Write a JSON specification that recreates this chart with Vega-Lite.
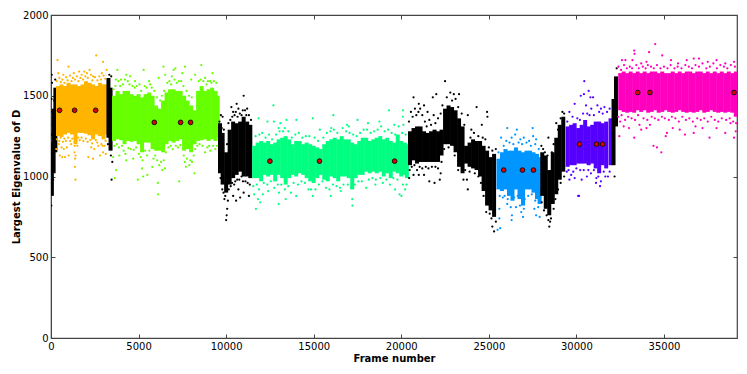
{"$schema":"https://vega.github.io/schema/vega-lite/v6.json","width":686,"height":323,"autosize":"none","padding":{"left":51,"top":15,"right":10,"bottom":36},"background":"white",
"config":{"view":{"stroke":"#444","strokeWidth":1.2},"axis":{"labelFont":"DejaVu Sans","titleFont":"DejaVu Sans","labelFontSize":10,"titleFontSize":10,"titleFontWeight":"bold","labelColor":"#000","titleColor":"#000","grid":false,"domainColor":"#444","tickColor":"#444","tickSize":-4,"labelPadding":7,"labelFlush":false}},
"datasets":{"bands":[
{"x":50,"lo":880,"hi":1210,"s":"k"},{"x":150,"lo":1020,"hi":1420,"s":"k"},{"x":250,"lo":1150,"hi":1550,"s":"k"},
{"x":400,"lo":1250,"hi":1560,"s":"o"},{"x":600,"lo":1245,"hi":1570,"s":"o"},{"x":800,"lo":1260,"hi":1560,"s":"o"},{"x":1000,"lo":1270,"hi":1580,"s":"o"},{"x":1200,"lo":1260,"hi":1570,"s":"o"},{"x":1400,"lo":1200,"hi":1570,"s":"o"},{"x":1600,"lo":1270,"hi":1560,"s":"o"},{"x":1800,"lo":1270,"hi":1570,"s":"o"},{"x":2000,"lo":1265,"hi":1590,"s":"o"},{"x":2200,"lo":1255,"hi":1580,"s":"o"},{"x":2400,"lo":1230,"hi":1570,"s":"o"},{"x":2600,"lo":1260,"hi":1560,"s":"o"},{"x":2800,"lo":1250,"hi":1580,"s":"o"},{"x":3000,"lo":1230,"hi":1570,"s":"o"},{"x":3150,"lo":1260,"hi":1570,"s":"o"},
{"x":3280,"lo":1240,"hi":1610,"s":"k"},{"x":3400,"lo":1160,"hi":1550,"s":"k"},
{"x":3600,"lo":1220,"hi":1500,"s":"g"},{"x":3800,"lo":1230,"hi":1530,"s":"g"},{"x":4000,"lo":1225,"hi":1510,"s":"g"},{"x":4200,"lo":1200,"hi":1530,"s":"g"},{"x":4400,"lo":1220,"hi":1530,"s":"g"},{"x":4600,"lo":1215,"hi":1510,"s":"g"},{"x":4800,"lo":1220,"hi":1500,"s":"g"},{"x":5000,"lo":1200,"hi":1510,"s":"g"},{"x":5200,"lo":1150,"hi":1490,"s":"g"},{"x":5400,"lo":1210,"hi":1510,"s":"g"},{"x":5600,"lo":1210,"hi":1520,"s":"g"},{"x":5800,"lo":1170,"hi":1500,"s":"g"},{"x":6000,"lo":1160,"hi":1440,"s":"g"},{"x":6200,"lo":1160,"hi":1420,"s":"g"},{"x":6400,"lo":1150,"hi":1470,"s":"g"},{"x":6600,"lo":1200,"hi":1520,"s":"g"},{"x":6800,"lo":1220,"hi":1540,"s":"g"},{"x":7000,"lo":1210,"hi":1540,"s":"g"},{"x":7200,"lo":1220,"hi":1530,"s":"g"},{"x":7400,"lo":1230,"hi":1530,"s":"g"},{"x":7600,"lo":1160,"hi":1500,"s":"g"},{"x":7800,"lo":1170,"hi":1470,"s":"g"},{"x":8000,"lo":1150,"hi":1440,"s":"g"},{"x":8200,"lo":1200,"hi":1410,"s":"g"},{"x":8400,"lo":1220,"hi":1530,"s":"g"},{"x":8600,"lo":1225,"hi":1560,"s":"g"},{"x":8800,"lo":1230,"hi":1530,"s":"g"},{"x":9000,"lo":1220,"hi":1540,"s":"g"},{"x":9200,"lo":1230,"hi":1550,"s":"g"},{"x":9400,"lo":1220,"hi":1530,"s":"g"},{"x":9520,"lo":1240,"hi":1500,"s":"g"},
{"x":9650,"lo":1020,"hi":1330,"s":"k"},{"x":9800,"lo":950,"hi":1270,"s":"k"},{"x":10000,"lo":900,"hi":1150,"s":"k"},{"x":10200,"lo":950,"hi":1290,"s":"k"},{"x":10400,"lo":990,"hi":1340,"s":"k"},{"x":10600,"lo":1010,"hi":1330,"s":"k"},{"x":10800,"lo":1030,"hi":1340,"s":"k"},{"x":11000,"lo":1000,"hi":1370,"s":"k"},{"x":11200,"lo":1000,"hi":1340,"s":"k"},{"x":11380,"lo":990,"hi":1320,"s":"k"},
{"x":11600,"lo":990,"hi":1190,"s":"s"},{"x":11800,"lo":990,"hi":1210,"s":"s"},{"x":12000,"lo":970,"hi":1220,"s":"s"},{"x":12200,"lo":1010,"hi":1210,"s":"s"},{"x":12400,"lo":1000,"hi":1220,"s":"s"},{"x":12600,"lo":1010,"hi":1200,"s":"s"},{"x":12800,"lo":970,"hi":1210,"s":"s"},{"x":13000,"lo":1010,"hi":1230,"s":"s"},{"x":13200,"lo":990,"hi":1240,"s":"s"},{"x":13400,"lo":950,"hi":1250,"s":"s"},{"x":13600,"lo":990,"hi":1230,"s":"s"},{"x":13800,"lo":1010,"hi":1200,"s":"s"},{"x":14000,"lo":1000,"hi":1220,"s":"s"},{"x":14200,"lo":1020,"hi":1220,"s":"s"},{"x":14400,"lo":1010,"hi":1200,"s":"s"},{"x":14600,"lo":990,"hi":1210,"s":"s"},{"x":14800,"lo":970,"hi":1200,"s":"s"},{"x":15000,"lo":960,"hi":1190,"s":"s"},{"x":15200,"lo":990,"hi":1180,"s":"s"},{"x":15400,"lo":1010,"hi":1170,"s":"s"},{"x":15600,"lo":980,"hi":1200,"s":"s"},{"x":15800,"lo":970,"hi":1220,"s":"s"},{"x":16000,"lo":1000,"hi":1230,"s":"s"},{"x":16200,"lo":990,"hi":1240,"s":"s"},{"x":16400,"lo":970,"hi":1230,"s":"s"},{"x":16600,"lo":1000,"hi":1250,"s":"s"},{"x":16800,"lo":1000,"hi":1230,"s":"s"},{"x":17000,"lo":990,"hi":1230,"s":"s"},{"x":17200,"lo":920,"hi":1210,"s":"s"},{"x":17400,"lo":990,"hi":1200,"s":"s"},{"x":17600,"lo":1010,"hi":1220,"s":"s"},{"x":17800,"lo":1010,"hi":1240,"s":"s"},{"x":18000,"lo":1030,"hi":1240,"s":"s"},{"x":18200,"lo":1020,"hi":1220,"s":"s"},{"x":18400,"lo":1030,"hi":1230,"s":"s"},{"x":18600,"lo":1020,"hi":1240,"s":"s"},{"x":18800,"lo":1030,"hi":1250,"s":"s"},{"x":19000,"lo":1000,"hi":1230,"s":"s"},{"x":19200,"lo":1020,"hi":1240,"s":"s"},{"x":19400,"lo":990,"hi":1220,"s":"s"},{"x":19600,"lo":1030,"hi":1210,"s":"s"},{"x":19800,"lo":1020,"hi":1260,"s":"s"},{"x":20000,"lo":1000,"hi":1220,"s":"s"},{"x":20200,"lo":1010,"hi":1210,"s":"s"},{"x":20320,"lo":990,"hi":1200,"s":"s"},
{"x":20500,"lo":1070,"hi":1280,"s":"k"},{"x":20700,"lo":1100,"hi":1300,"s":"k"},{"x":20900,"lo":1080,"hi":1310,"s":"k"},{"x":21100,"lo":1090,"hi":1310,"s":"k"},{"x":21300,"lo":1090,"hi":1280,"s":"k"},{"x":21500,"lo":1090,"hi":1270,"s":"k"},{"x":21700,"lo":1090,"hi":1280,"s":"k"},{"x":21900,"lo":1090,"hi":1290,"s":"k"},{"x":22100,"lo":1090,"hi":1280,"s":"k"},{"x":22300,"lo":1130,"hi":1290,"s":"k"},{"x":22500,"lo":1200,"hi":1420,"s":"k"},{"x":22700,"lo":1200,"hi":1440,"s":"k"},{"x":22900,"lo":1190,"hi":1430,"s":"k"},{"x":23100,"lo":1150,"hi":1410,"s":"k"},{"x":23300,"lo":1060,"hi":1360,"s":"k"},{"x":23500,"lo":1020,"hi":1310,"s":"k"},{"x":23700,"lo":1080,"hi":1190,"s":"k"},{"x":23900,"lo":1060,"hi":1210,"s":"k"},{"x":24100,"lo":1050,"hi":1230,"s":"k"},{"x":24300,"lo":1040,"hi":1220,"s":"k"},{"x":24500,"lo":1000,"hi":1220,"s":"k"},{"x":24700,"lo":910,"hi":1190,"s":"k"},{"x":24900,"lo":820,"hi":1160,"s":"k"},{"x":25100,"lo":790,"hi":1120,"s":"k"},{"x":25300,"lo":750,"hi":1140,"s":"k"},
{"x":25550,"lo":920,"hi":1110,"s":"b"},{"x":25750,"lo":910,"hi":1150,"s":"b"},{"x":25950,"lo":920,"hi":1170,"s":"b"},{"x":26150,"lo":880,"hi":1160,"s":"b"},{"x":26350,"lo":850,"hi":1160,"s":"b"},{"x":26550,"lo":920,"hi":1180,"s":"b"},{"x":26750,"lo":860,"hi":1160,"s":"b"},{"x":26950,"lo":820,"hi":1150,"s":"b"},{"x":27150,"lo":920,"hi":1160,"s":"b"},{"x":27350,"lo":920,"hi":1160,"s":"b"},{"x":27550,"lo":900,"hi":1150,"s":"b"},{"x":27750,"lo":860,"hi":1140,"s":"b"},{"x":27900,"lo":830,"hi":1120,"s":"b"},
{"x":28050,"lo":880,"hi":1150,"s":"k"},{"x":28250,"lo":800,"hi":1130,"s":"k"},{"x":28450,"lo":760,"hi":1040,"s":"k"},{"x":28650,"lo":830,"hi":1150,"s":"k"},{"x":28850,"lo":890,"hi":1240,"s":"k"},{"x":29050,"lo":980,"hi":1320,"s":"k"},{"x":29250,"lo":1030,"hi":1370,"s":"k"},
{"x":29500,"lo":1060,"hi":1310,"s":"p"},{"x":29700,"lo":1070,"hi":1320,"s":"p"},{"x":29900,"lo":1070,"hi":1330,"s":"p"},{"x":30100,"lo":1080,"hi":1300,"s":"p"},{"x":30300,"lo":1080,"hi":1320,"s":"p"},{"x":30500,"lo":1080,"hi":1350,"s":"p"},{"x":30700,"lo":1070,"hi":1310,"s":"p"},{"x":30900,"lo":1080,"hi":1320,"s":"p"},{"x":31100,"lo":1050,"hi":1340,"s":"p"},{"x":31300,"lo":1020,"hi":1340,"s":"p"},{"x":31500,"lo":1070,"hi":1330,"s":"p"},{"x":31700,"lo":1050,"hi":1340,"s":"p"},{"x":31950,"lo":1070,"hi":1360,"s":"p"},
{"x":32120,"lo":1070,"hi":1480,"s":"k"},{"x":32260,"lo":1310,"hi":1620,"s":"k"},
{"x":32500,"lo":1410,"hi":1640,"s":"m"},{"x":32700,"lo":1400,"hi":1650,"s":"m"},{"x":32900,"lo":1395,"hi":1640,"s":"m"},{"x":33100,"lo":1400,"hi":1650,"s":"m"},{"x":33300,"lo":1395,"hi":1640,"s":"m"},{"x":33500,"lo":1410,"hi":1650,"s":"m"},{"x":33700,"lo":1400,"hi":1640,"s":"m"},{"x":33900,"lo":1410,"hi":1650,"s":"m"},{"x":34100,"lo":1395,"hi":1640,"s":"m"},{"x":34300,"lo":1400,"hi":1650,"s":"m"},{"x":34500,"lo":1410,"hi":1650,"s":"m"},{"x":34700,"lo":1395,"hi":1640,"s":"m"},{"x":34900,"lo":1400,"hi":1650,"s":"m"},{"x":35100,"lo":1410,"hi":1640,"s":"m"},{"x":35300,"lo":1400,"hi":1640,"s":"m"},{"x":35500,"lo":1395,"hi":1650,"s":"m"},{"x":35700,"lo":1400,"hi":1640,"s":"m"},{"x":35900,"lo":1410,"hi":1650,"s":"m"},{"x":36100,"lo":1400,"hi":1640,"s":"m"},{"x":36300,"lo":1395,"hi":1650,"s":"m"},{"x":36500,"lo":1400,"hi":1650,"s":"m"},{"x":36700,"lo":1395,"hi":1640,"s":"m"},{"x":36900,"lo":1400,"hi":1650,"s":"m"},{"x":37100,"lo":1410,"hi":1650,"s":"m"},{"x":37300,"lo":1395,"hi":1640,"s":"m"},{"x":37500,"lo":1400,"hi":1650,"s":"m"},{"x":37700,"lo":1410,"hi":1640,"s":"m"},{"x":37900,"lo":1400,"hi":1650,"s":"m"},{"x":38100,"lo":1395,"hi":1640,"s":"m"},{"x":38300,"lo":1400,"hi":1650,"s":"m"},{"x":38500,"lo":1395,"hi":1640,"s":"m"},{"x":38700,"lo":1400,"hi":1650,"s":"m"},{"x":38900,"lo":1395,"hi":1640,"s":"m"},{"x":39100,"lo":1370,"hi":1650,"s":"m"}
],"pts":[
{"x":20,"y":820,"s":"k"},{"x":40,"y":1630,"s":"k"},{"x":60,"y":1580,"s":"k"},{"x":30,"y":1480,"s":"k"},{"x":70,"y":1400,"s":"k"},{"x":90,"y":1320,"s":"k"},{"x":30,"y":900,"s":"k"},{"x":240,"y":1600,"s":"k"},{"x":3460,"y":980,"s":"k"},{"x":3500,"y":1090,"s":"k"},{"x":3440,"y":1620,"s":"k"},{"x":3330,"y":1630,"s":"k"},{"x":3250,"y":1200,"s":"k"},{"x":3420,"y":1130,"s":"k"},{"x":20,"y":1260,"s":"k"},{"x":120,"y":980,"s":"k"},{"x":180,"y":1470,"s":"k"},
{"x":370,"y":1720,"s":"o"},{"x":1000,"y":1680,"s":"o"},{"x":1300,"y":1640,"s":"o"},{"x":1600,"y":1650,"s":"o"},{"x":2050,"y":1640,"s":"o"},{"x":2580,"y":1750,"s":"o"},{"x":2970,"y":1710,"s":"o"},{"x":3180,"y":1660,"s":"o"},{"x":700,"y":1630,"s":"o"},{"x":420,"y":1640,"s":"o"},{"x":1400,"y":980,"s":"o"},{"x":1370,"y":1060,"s":"o"},{"x":1380,"y":1110,"s":"o"},{"x":1340,"y":1150,"s":"o"},{"x":1350,"y":1190,"s":"o"},{"x":1400,"y":1130,"s":"o"},{"x":500,"y":1130,"s":"o"},{"x":730,"y":1170,"s":"o"},{"x":640,"y":1120,"s":"o"},{"x":800,"y":1120,"s":"o"},{"x":1010,"y":1130,"s":"o"},{"x":2130,"y":1120,"s":"o"},{"x":2400,"y":1110,"s":"o"},{"x":2470,"y":1170,"s":"o"},{"x":2800,"y":1130,"s":"o"},{"x":2970,"y":1150,"s":"o"},{"x":3060,"y":1190,"s":"o"},{"x":1900,"y":1650,"s":"o"},{"x":2200,"y":1660,"s":"o"},{"x":1750,"y":1630,"s":"o"},{"x":2400,"y":1620,"s":"o"},{"x":2900,"y":1640,"s":"o"},{"x":1500,"y":1190,"s":"o"},{"x":300,"y":1170,"s":"o"},{"x":600,"y":1180,"s":"o"},{"x":900,"y":1180,"s":"o"},{"x":450,"y":1200,"s":"o"},{"x":1150,"y":1200,"s":"o"},{"x":2300,"y":1180,"s":"o"},{"x":2700,"y":1190,"s":"o"},{"x":3130,"y":1140,"s":"o"},
{"x":320,"y":1590,"s":"o"},{"x":480,"y":1610,"s":"o"},{"x":560,"y":1585,"s":"o"},{"x":650,"y":1600,"s":"o"},{"x":770,"y":1580,"s":"o"},{"x":870,"y":1615,"s":"o"},{"x":950,"y":1595,"s":"o"},{"x":1080,"y":1625,"s":"o"},{"x":1170,"y":1590,"s":"o"},{"x":1250,"y":1610,"s":"o"},{"x":1370,"y":1600,"s":"o"},{"x":1480,"y":1620,"s":"o"},{"x":1570,"y":1590,"s":"o"},{"x":1680,"y":1610,"s":"o"},{"x":1830,"y":1600,"s":"o"},{"x":1960,"y":1620,"s":"o"},{"x":2100,"y":1610,"s":"o"},{"x":2280,"y":1630,"s":"o"},{"x":2360,"y":1595,"s":"o"},{"x":2510,"y":1615,"s":"o"},{"x":2650,"y":1595,"s":"o"},{"x":2760,"y":1620,"s":"o"},{"x":2850,"y":1600,"s":"o"},{"x":3000,"y":1625,"s":"o"},{"x":3100,"y":1605,"s":"o"},
{"x":340,"y":1230,"s":"o"},{"x":470,"y":1220,"s":"o"},{"x":550,"y":1240,"s":"o"},{"x":680,"y":1215,"s":"o"},{"x":760,"y":1235,"s":"o"},{"x":850,"y":1220,"s":"o"},{"x":980,"y":1240,"s":"o"},{"x":1100,"y":1220,"s":"o"},{"x":1210,"y":1235,"s":"o"},{"x":1560,"y":1240,"s":"o"},{"x":1640,"y":1225,"s":"o"},{"x":1740,"y":1240,"s":"o"},{"x":1850,"y":1220,"s":"o"},{"x":1990,"y":1235,"s":"o"},{"x":2090,"y":1215,"s":"o"},{"x":2250,"y":1225,"s":"o"},{"x":2350,"y":1205,"s":"o"},{"x":2560,"y":1225,"s":"o"},{"x":2640,"y":1210,"s":"o"},{"x":2880,"y":1200,"s":"o"},{"x":2950,"y":1190,"s":"o"},{"x":3120,"y":1220,"s":"o"},
{"x":3790,"y":1660,"s":"g"},{"x":4300,"y":1630,"s":"g"},{"x":4520,"y":1620,"s":"g"},{"x":5290,"y":1660,"s":"g"},{"x":6420,"y":1680,"s":"g"},{"x":6520,"y":1630,"s":"g"},{"x":7000,"y":1660,"s":"g"},{"x":7100,"y":1670,"s":"g"},{"x":7500,"y":1640,"s":"g"},{"x":7650,"y":1680,"s":"g"},{"x":8230,"y":1630,"s":"g"},{"x":8580,"y":1690,"s":"g"},{"x":9220,"y":1640,"s":"g"},{"x":3700,"y":1600,"s":"g"},{"x":4000,"y":1600,"s":"g"},{"x":4800,"y":1590,"s":"g"},{"x":5600,"y":1590,"s":"g"},{"x":6150,"y":1610,"s":"g"},{"x":6900,"y":1620,"s":"g"},{"x":8000,"y":1600,"s":"g"},{"x":8800,"y":1610,"s":"g"},{"x":3720,"y":1040,"s":"g"},{"x":3640,"y":990,"s":"g"},{"x":4960,"y":980,"s":"g"},{"x":5260,"y":1000,"s":"g"},{"x":5500,"y":1010,"s":"g"},{"x":6120,"y":890,"s":"g"},{"x":6100,"y":960,"s":"g"},{"x":7320,"y":970,"s":"g"},{"x":7700,"y":1060,"s":"g"},{"x":8200,"y":1020,"s":"g"},{"x":6350,"y":1040,"s":"g"},{"x":6500,"y":1050,"s":"g"},{"x":5780,"y":1060,"s":"g"},{"x":5200,"y":1050,"s":"g"},{"x":4300,"y":1100,"s":"g"},{"x":4700,"y":1110,"s":"g"},{"x":3900,"y":1130,"s":"g"},{"x":7900,"y":1070,"s":"g"},{"x":8050,"y":1090,"s":"g"},{"x":8150,"y":1130,"s":"g"},{"x":8800,"y":1150,"s":"g"},{"x":9100,"y":1160,"s":"g"},{"x":3550,"y":1120,"s":"g"},
{"x":3570,"y":1540,"s":"g"},{"x":3680,"y":1560,"s":"g"},{"x":3850,"y":1590,"s":"g"},{"x":3950,"y":1560,"s":"g"},{"x":4100,"y":1570,"s":"g"},{"x":4220,"y":1600,"s":"g"},{"x":4380,"y":1590,"s":"g"},{"x":4480,"y":1570,"s":"g"},{"x":4650,"y":1560,"s":"g"},{"x":4780,"y":1550,"s":"g"},{"x":4900,"y":1560,"s":"g"},{"x":5050,"y":1570,"s":"g"},{"x":5150,"y":1530,"s":"g"},{"x":5350,"y":1560,"s":"g"},{"x":5460,"y":1550,"s":"g"},{"x":5660,"y":1570,"s":"g"},{"x":5750,"y":1550,"s":"g"},{"x":5900,"y":1530,"s":"g"},{"x":6050,"y":1490,"s":"g"},{"x":6230,"y":1470,"s":"g"},{"x":6330,"y":1500,"s":"g"},{"x":6460,"y":1530,"s":"g"},{"x":6640,"y":1580,"s":"g"},{"x":6760,"y":1590,"s":"g"},{"x":6860,"y":1570,"s":"g"},{"x":7050,"y":1600,"s":"g"},{"x":7180,"y":1580,"s":"g"},{"x":7300,"y":1590,"s":"g"},{"x":7440,"y":1590,"s":"g"},{"x":7560,"y":1560,"s":"g"},{"x":7740,"y":1530,"s":"g"},{"x":7880,"y":1500,"s":"g"},{"x":8040,"y":1490,"s":"g"},{"x":8440,"y":1590,"s":"g"},{"x":8540,"y":1600,"s":"g"},{"x":8700,"y":1590,"s":"g"},{"x":8880,"y":1570,"s":"g"},{"x":8960,"y":1590,"s":"g"},{"x":9080,"y":1590,"s":"g"},{"x":9160,"y":1580,"s":"g"},{"x":9300,"y":1590,"s":"g"},{"x":9440,"y":1580,"s":"g"},
{"x":3620,"y":1190,"s":"g"},{"x":3760,"y":1200,"s":"g"},{"x":3880,"y":1180,"s":"g"},{"x":4050,"y":1190,"s":"g"},{"x":4150,"y":1160,"s":"g"},{"x":4250,"y":1140,"s":"g"},{"x":4420,"y":1175,"s":"g"},{"x":4560,"y":1170,"s":"g"},{"x":4720,"y":1165,"s":"g"},{"x":4860,"y":1180,"s":"g"},{"x":5020,"y":1140,"s":"g"},{"x":5120,"y":1120,"s":"g"},{"x":5230,"y":1100,"s":"g"},{"x":5380,"y":1160,"s":"g"},{"x":5480,"y":1130,"s":"g"},{"x":5620,"y":1160,"s":"g"},{"x":5850,"y":1110,"s":"g"},{"x":5950,"y":1130,"s":"g"},{"x":6060,"y":1100,"s":"g"},{"x":6180,"y":1070,"s":"g"},{"x":6280,"y":1090,"s":"g"},{"x":6440,"y":1100,"s":"g"},{"x":6560,"y":1150,"s":"g"},{"x":6700,"y":1180,"s":"g"},{"x":6830,"y":1190,"s":"g"},{"x":6950,"y":1170,"s":"g"},{"x":7130,"y":1190,"s":"g"},{"x":7250,"y":1180,"s":"g"},{"x":7380,"y":1195,"s":"g"},{"x":7580,"y":1130,"s":"g"},{"x":7640,"y":1090,"s":"g"},{"x":7760,"y":1110,"s":"g"},{"x":7950,"y":1100,"s":"g"},{"x":8240,"y":1170,"s":"g"},{"x":8360,"y":1190,"s":"g"},{"x":8480,"y":1200,"s":"g"},{"x":8650,"y":1190,"s":"g"},{"x":8930,"y":1180,"s":"g"},{"x":9030,"y":1190,"s":"g"},{"x":9260,"y":1190,"s":"g"},{"x":9380,"y":1170,"s":"g"},{"x":9480,"y":1190,"s":"g"},
{"x":9700,"y":1380,"s":"k"},{"x":9800,"y":1370,"s":"k"},{"x":10130,"y":1330,"s":"k"},{"x":10300,"y":1430,"s":"k"},{"x":10400,"y":1400,"s":"k"},{"x":10600,"y":1450,"s":"k"},{"x":10700,"y":1420,"s":"k"},{"x":11000,"y":1500,"s":"k"},{"x":11200,"y":1420,"s":"k"},{"x":10000,"y":730,"s":"k"},{"x":10030,"y":760,"s":"k"},{"x":10060,"y":800,"s":"k"},{"x":10100,"y":850,"s":"k"},{"x":10400,"y":880,"s":"k"},{"x":10570,"y":850,"s":"k"},{"x":10800,"y":870,"s":"k"},{"x":11000,"y":900,"s":"k"},{"x":11300,"y":880,"s":"k"},{"x":10700,"y":920,"s":"k"},{"x":9900,"y":860,"s":"k"},
{"x":9620,"y":1340,"s":"k"},{"x":9750,"y":1300,"s":"k"},{"x":9870,"y":1290,"s":"k"},{"x":10050,"y":1200,"s":"k"},{"x":10240,"y":1350,"s":"k"},{"x":10350,"y":1370,"s":"k"},{"x":10480,"y":1380,"s":"k"},{"x":10550,"y":1400,"s":"k"},{"x":10650,"y":1370,"s":"k"},{"x":10780,"y":1390,"s":"k"},{"x":10880,"y":1380,"s":"k"},{"x":10950,"y":1410,"s":"k"},{"x":11080,"y":1410,"s":"k"},{"x":11150,"y":1380,"s":"k"},{"x":11300,"y":1380,"s":"k"},{"x":11420,"y":1350,"s":"k"},{"x":9680,"y":990,"s":"k"},{"x":9780,"y":920,"s":"k"},{"x":9850,"y":900,"s":"k"},{"x":9950,"y":880,"s":"k"},{"x":10150,"y":920,"s":"k"},{"x":10260,"y":940,"s":"k"},{"x":10340,"y":960,"s":"k"},{"x":10460,"y":950,"s":"k"},{"x":10520,"y":970,"s":"k"},{"x":10630,"y":980,"s":"k"},{"x":10750,"y":980,"s":"k"},{"x":10880,"y":1000,"s":"k"},{"x":10960,"y":970,"s":"k"},{"x":11100,"y":970,"s":"k"},{"x":11230,"y":960,"s":"k"},{"x":11350,"y":950,"s":"k"},
{"x":11700,"y":800,"s":"s"},{"x":11820,"y":860,"s":"s"},{"x":11600,"y":890,"s":"s"},{"x":11950,"y":840,"s":"s"},{"x":12100,"y":890,"s":"s"},{"x":12400,"y":910,"s":"s"},{"x":13000,"y":830,"s":"s"},{"x":13020,"y":900,"s":"s"},{"x":12950,"y":950,"s":"s"},{"x":14000,"y":880,"s":"s"},{"x":14950,"y":880,"s":"s"},{"x":14700,"y":920,"s":"s"},{"x":13700,"y":900,"s":"s"},{"x":13400,"y":860,"s":"s"},{"x":15980,"y":880,"s":"s"},{"x":17210,"y":820,"s":"s"},{"x":17200,"y":860,"s":"s"},{"x":16550,"y":910,"s":"s"},{"x":18000,"y":930,"s":"s"},{"x":18520,"y":950,"s":"s"},{"x":19650,"y":920,"s":"s"},{"x":20010,"y":880,"s":"s"},{"x":19900,"y":890,"s":"s"},{"x":20220,"y":920,"s":"s"},{"x":12700,"y":1440,"s":"s"},{"x":11850,"y":1360,"s":"s"},{"x":12360,"y":1340,"s":"s"},{"x":12730,"y":1340,"s":"s"},{"x":13100,"y":1330,"s":"s"},{"x":13450,"y":1350,"s":"s"},{"x":14010,"y":1350,"s":"s"},{"x":14950,"y":1360,"s":"s"},{"x":15350,"y":1290,"s":"s"},{"x":16120,"y":1380,"s":"s"},{"x":16900,"y":1320,"s":"s"},{"x":17500,"y":1350,"s":"s"},{"x":18100,"y":1330,"s":"s"},{"x":18750,"y":1340,"s":"s"},{"x":19300,"y":1410,"s":"s"},{"x":20100,"y":1410,"s":"s"},{"x":20090,"y":1370,"s":"s"},{"x":20120,"y":1320,"s":"s"},{"x":19600,"y":1320,"s":"s"},{"x":13000,"y":1300,"s":"s"},{"x":16000,"y":1300,"s":"s"},{"x":17000,"y":1310,"s":"s"},
{"x":11680,"y":1250,"s":"s"},{"x":11900,"y":1260,"s":"s"},{"x":12060,"y":1270,"s":"s"},{"x":12250,"y":1240,"s":"s"},{"x":12450,"y":1260,"s":"s"},{"x":12620,"y":1230,"s":"s"},{"x":12850,"y":1260,"s":"s"},{"x":13050,"y":1280,"s":"s"},{"x":13250,"y":1280,"s":"s"},{"x":13350,"y":1300,"s":"s"},{"x":13550,"y":1280,"s":"s"},{"x":13750,"y":1240,"s":"s"},{"x":13950,"y":1260,"s":"s"},{"x":14150,"y":1270,"s":"s"},{"x":14350,"y":1240,"s":"s"},{"x":14550,"y":1250,"s":"s"},{"x":14750,"y":1250,"s":"s"},{"x":15050,"y":1240,"s":"s"},{"x":15250,"y":1220,"s":"s"},{"x":15550,"y":1240,"s":"s"},{"x":15750,"y":1270,"s":"s"},{"x":15950,"y":1280,"s":"s"},{"x":16150,"y":1290,"s":"s"},{"x":16350,"y":1270,"s":"s"},{"x":16650,"y":1300,"s":"s"},{"x":16850,"y":1280,"s":"s"},{"x":17050,"y":1270,"s":"s"},{"x":17250,"y":1260,"s":"s"},{"x":17450,"y":1250,"s":"s"},{"x":17650,"y":1270,"s":"s"},{"x":17850,"y":1290,"s":"s"},{"x":18050,"y":1290,"s":"s"},{"x":18250,"y":1270,"s":"s"},{"x":18450,"y":1280,"s":"s"},{"x":18650,"y":1290,"s":"s"},{"x":18850,"y":1310,"s":"s"},{"x":19050,"y":1280,"s":"s"},{"x":19250,"y":1290,"s":"s"},{"x":19450,"y":1270,"s":"s"},{"x":19650,"y":1260,"s":"s"},{"x":19850,"y":1310,"s":"s"},{"x":20050,"y":1270,"s":"s"},{"x":20250,"y":1260,"s":"s"},
{"x":11550,"y":940,"s":"s"},{"x":11750,"y":950,"s":"s"},{"x":11880,"y":920,"s":"s"},{"x":12150,"y":960,"s":"s"},{"x":12350,"y":950,"s":"s"},{"x":12550,"y":970,"s":"s"},{"x":12750,"y":930,"s":"s"},{"x":13150,"y":950,"s":"s"},{"x":13350,"y":920,"s":"s"},{"x":13550,"y":940,"s":"s"},{"x":13850,"y":960,"s":"s"},{"x":14100,"y":950,"s":"s"},{"x":14300,"y":970,"s":"s"},{"x":14500,"y":960,"s":"s"},{"x":14850,"y":920,"s":"s"},{"x":15100,"y":920,"s":"s"},{"x":15300,"y":950,"s":"s"},{"x":15500,"y":970,"s":"s"},{"x":15700,"y":930,"s":"s"},{"x":15900,"y":920,"s":"s"},{"x":16100,"y":950,"s":"s"},{"x":16300,"y":940,"s":"s"},{"x":16500,"y":930,"s":"s"},{"x":16700,"y":950,"s":"s"},{"x":16950,"y":950,"s":"s"},{"x":17150,"y":930,"s":"s"},{"x":17350,"y":950,"s":"s"},{"x":17550,"y":970,"s":"s"},{"x":17750,"y":970,"s":"s"},{"x":18150,"y":980,"s":"s"},{"x":18350,"y":990,"s":"s"},{"x":18550,"y":980,"s":"s"},{"x":18800,"y":990,"s":"s"},{"x":18950,"y":960,"s":"s"},{"x":19150,"y":980,"s":"s"},{"x":19350,"y":950,"s":"s"},{"x":19550,"y":990,"s":"s"},{"x":19780,"y":980,"s":"s"},{"x":20100,"y":950,"s":"s"},{"x":20300,"y":950,"s":"s"},
{"x":20450,"y":990,"s":"k"},{"x":20700,"y":1010,"s":"k"},{"x":21000,"y":1010,"s":"k"},{"x":21300,"y":1010,"s":"k"},{"x":21600,"y":970,"s":"k"},{"x":21900,"y":960,"s":"k"},{"x":22200,"y":980,"s":"k"},{"x":22250,"y":1020,"s":"k"},{"x":20700,"y":1490,"s":"k"},{"x":21000,"y":1450,"s":"k"},{"x":21300,"y":1440,"s":"k"},{"x":21800,"y":1490,"s":"k"},{"x":22000,"y":1510,"s":"k"},{"x":22500,"y":1590,"s":"k"},{"x":22800,"y":1520,"s":"k"},{"x":23300,"y":1510,"s":"k"},{"x":23000,"y":1510,"s":"k"},{"x":21500,"y":1400,"s":"k"},{"x":24300,"y":1430,"s":"k"},{"x":24900,"y":1400,"s":"k"},{"x":24920,"y":1370,"s":"k"},{"x":24600,"y":1320,"s":"k"},{"x":23800,"y":1380,"s":"k"},{"x":24000,"y":1290,"s":"k"},{"x":23800,"y":920,"s":"k"},{"x":23750,"y":980,"s":"k"},{"x":25300,"y":660,"s":"k"},{"x":25200,"y":690,"s":"k"},{"x":28450,"y":690,"s":"k"},{"x":28500,"y":720,"s":"k"},{"x":28000,"y":1190,"s":"k"},{"x":28400,"y":1240,"s":"k"},{"x":28850,"y":1330,"s":"k"},{"x":29200,"y":1400,"s":"k"},
{"x":20440,"y":1340,"s":"k"},{"x":20550,"y":1400,"s":"k"},{"x":20650,"y":1370,"s":"k"},{"x":20780,"y":1420,"s":"k"},{"x":20860,"y":1380,"s":"k"},{"x":20980,"y":1400,"s":"k"},{"x":21080,"y":1420,"s":"k"},{"x":21200,"y":1380,"s":"k"},{"x":21350,"y":1340,"s":"k"},{"x":21450,"y":1310,"s":"k"},{"x":21600,"y":1350,"s":"k"},{"x":21700,"y":1320,"s":"k"},{"x":21850,"y":1380,"s":"k"},{"x":21950,"y":1330,"s":"k"},{"x":22100,"y":1360,"s":"k"},{"x":22250,"y":1390,"s":"k"},{"x":22350,"y":1440,"s":"k"},{"x":22600,"y":1490,"s":"k"},{"x":22900,"y":1470,"s":"k"},{"x":23100,"y":1480,"s":"k"},{"x":23250,"y":1430,"s":"k"},{"x":23450,"y":1390,"s":"k"},{"x":23600,"y":1320,"s":"k"},{"x":23950,"y":1240,"s":"k"},{"x":24150,"y":1270,"s":"k"},{"x":24400,"y":1250,"s":"k"},{"x":24650,"y":1240,"s":"k"},{"x":24800,"y":1230,"s":"k"},{"x":25000,"y":1180,"s":"k"},{"x":25200,"y":1160,"s":"k"},{"x":25400,"y":1170,"s":"k"},
{"x":20480,"y":1040,"s":"k"},{"x":20600,"y":1060,"s":"k"},{"x":20750,"y":1070,"s":"k"},{"x":20900,"y":1040,"s":"k"},{"x":21050,"y":1060,"s":"k"},{"x":21200,"y":1050,"s":"k"},{"x":21400,"y":1060,"s":"k"},{"x":21550,"y":1050,"s":"k"},{"x":21750,"y":1060,"s":"k"},{"x":21950,"y":1060,"s":"k"},{"x":22100,"y":1050,"s":"k"},{"x":22300,"y":1090,"s":"k"},{"x":22450,"y":1170,"s":"k"},{"x":22700,"y":1180,"s":"k"},{"x":23050,"y":1130,"s":"k"},{"x":23250,"y":1040,"s":"k"},{"x":23550,"y":980,"s":"k"},{"x":23650,"y":1040,"s":"k"},{"x":23900,"y":1030,"s":"k"},{"x":24200,"y":1020,"s":"k"},{"x":24400,"y":1000,"s":"k"},{"x":24550,"y":960,"s":"k"},{"x":24700,"y":880,"s":"k"},{"x":24850,"y":780,"s":"k"},{"x":25050,"y":770,"s":"k"},{"x":25150,"y":740,"s":"k"},{"x":25400,"y":720,"s":"k"},{"x":28020,"y":840,"s":"k"},{"x":28150,"y":790,"s":"k"},{"x":28300,"y":760,"s":"k"},{"x":28400,"y":730,"s":"k"},{"x":28550,"y":740,"s":"k"},{"x":28700,"y":800,"s":"k"},{"x":28800,"y":860,"s":"k"},{"x":28950,"y":920,"s":"k"},{"x":29100,"y":960,"s":"k"},{"x":29300,"y":1000,"s":"k"},{"x":28100,"y":1170,"s":"k"},{"x":28200,"y":1150,"s":"k"},{"x":28350,"y":1130,"s":"k"},{"x":28600,"y":1150,"s":"k"},{"x":28700,"y":1200,"s":"k"},{"x":28950,"y":1290,"s":"k"},{"x":29100,"y":1360,"s":"k"},{"x":29300,"y":1390,"s":"k"},
{"x":25500,"y":670,"s":"b"},{"x":25650,"y":680,"s":"b"},{"x":25600,"y":740,"s":"b"},{"x":25600,"y":800,"s":"b"},{"x":26300,"y":730,"s":"b"},{"x":26320,"y":760,"s":"b"},{"x":26050,"y":830,"s":"b"},{"x":25800,"y":870,"s":"b"},{"x":26950,"y":750,"s":"b"},{"x":26850,"y":780,"s":"b"},{"x":27000,"y":800,"s":"b"},{"x":27700,"y":760,"s":"b"},{"x":27900,"y":750,"s":"b"},{"x":27600,"y":800,"s":"b"},{"x":26550,"y":810,"s":"b"},{"x":25700,"y":1240,"s":"b"},{"x":26050,"y":1300,"s":"b"},{"x":26600,"y":1290,"s":"b"},{"x":27500,"y":1300,"s":"b"},{"x":26300,"y":1240,"s":"b"},{"x":26500,"y":1260,"s":"b"},{"x":26800,"y":1230,"s":"b"},{"x":27000,"y":1240,"s":"b"},{"x":27300,"y":1220,"s":"b"},{"x":27530,"y":1250,"s":"b"},{"x":27700,"y":1230,"s":"b"},
{"x":25550,"y":1150,"s":"b"},{"x":25850,"y":1190,"s":"b"},{"x":26000,"y":1220,"s":"b"},{"x":26180,"y":1210,"s":"b"},{"x":26400,"y":1200,"s":"b"},{"x":26700,"y":1210,"s":"b"},{"x":26900,"y":1200,"s":"b"},{"x":27150,"y":1210,"s":"b"},{"x":27400,"y":1190,"s":"b"},{"x":27650,"y":1200,"s":"b"},{"x":27850,"y":1170,"s":"b"},{"x":25620,"y":880,"s":"b"},{"x":25900,"y":880,"s":"b"},{"x":26080,"y":860,"s":"b"},{"x":26250,"y":810,"s":"b"},{"x":26450,"y":870,"s":"b"},{"x":26650,"y":880,"s":"b"},{"x":26780,"y":820,"s":"b"},{"x":27050,"y":860,"s":"b"},{"x":27250,"y":880,"s":"b"},{"x":27450,"y":890,"s":"b"},{"x":27650,"y":850,"s":"b"},{"x":27820,"y":810,"s":"b"},
{"x":29600,"y":980,"s":"p"},{"x":29700,"y":1010,"s":"p"},{"x":30100,"y":880,"s":"p"},{"x":30150,"y":880,"s":"p"},{"x":29900,"y":990,"s":"p"},{"x":30300,"y":980,"s":"p"},{"x":30600,"y":1000,"s":"p"},{"x":31120,"y":960,"s":"p"},{"x":31140,"y":990,"s":"p"},{"x":31400,"y":970,"s":"p"},{"x":31350,"y":940,"s":"p"},{"x":31800,"y":1000,"s":"p"},{"x":29600,"y":1400,"s":"p"},{"x":29900,"y":1450,"s":"p"},{"x":30250,"y":1500,"s":"p"},{"x":30450,"y":1590,"s":"p"},{"x":30430,"y":1510,"s":"p"},{"x":30700,"y":1530,"s":"p"},{"x":30550,"y":1440,"s":"p"},{"x":30800,"y":1490,"s":"p"},{"x":30950,"y":1490,"s":"p"},{"x":31200,"y":1440,"s":"p"},{"x":30850,"y":1420,"s":"p"},{"x":31400,"y":1420,"s":"p"},{"x":31600,"y":1430,"s":"p"},{"x":31900,"y":1420,"s":"p"},
{"x":29480,"y":1340,"s":"p"},{"x":29780,"y":1370,"s":"p"},{"x":30050,"y":1360,"s":"p"},{"x":30200,"y":1350,"s":"p"},{"x":30380,"y":1390,"s":"p"},{"x":30620,"y":1390,"s":"p"},{"x":30750,"y":1380,"s":"p"},{"x":31000,"y":1380,"s":"p"},{"x":31300,"y":1400,"s":"p"},{"x":31500,"y":1390,"s":"p"},{"x":31750,"y":1400,"s":"p"},{"x":29450,"y":1030,"s":"p"},{"x":29550,"y":1040,"s":"p"},{"x":29820,"y":1030,"s":"p"},{"x":30000,"y":1050,"s":"p"},{"x":30220,"y":1040,"s":"p"},{"x":30420,"y":1040,"s":"p"},{"x":30680,"y":1040,"s":"p"},{"x":30830,"y":1020,"s":"p"},{"x":31000,"y":1040,"s":"p"},{"x":31250,"y":1000,"s":"p"},{"x":31560,"y":1030,"s":"p"},{"x":31650,"y":1000,"s":"p"},{"x":31900,"y":1030,"s":"p"},
{"x":32180,"y":1000,"s":"k"},{"x":32050,"y":1080,"s":"k"},{"x":32300,"y":1670,"s":"k"},
{"x":32600,"y":1720,"s":"m"},{"x":32800,"y":1720,"s":"m"},{"x":33200,"y":1720,"s":"m"},{"x":33300,"y":1780,"s":"m"},{"x":33320,"y":1760,"s":"m"},{"x":33700,"y":1700,"s":"m"},{"x":34150,"y":1770,"s":"m"},{"x":34500,"y":1820,"s":"m"},{"x":34900,"y":1750,"s":"m"},{"x":35400,"y":1720,"s":"m"},{"x":35800,"y":1700,"s":"m"},{"x":36300,"y":1720,"s":"m"},{"x":36700,"y":1730,"s":"m"},{"x":37000,"y":1730,"s":"m"},{"x":37500,"y":1710,"s":"m"},{"x":38000,"y":1720,"s":"m"},{"x":38500,"y":1700,"s":"m"},{"x":39000,"y":1710,"s":"m"},{"x":34000,"y":1710,"s":"m"},{"x":32500,"y":1340,"s":"m"},{"x":32450,"y":1250,"s":"m"},{"x":32700,"y":1310,"s":"m"},{"x":33000,"y":1300,"s":"m"},{"x":33300,"y":1240,"s":"m"},{"x":33700,"y":1290,"s":"m"},{"x":33600,"y":1320,"s":"m"},{"x":34000,"y":1300,"s":"m"},{"x":34400,"y":1190,"s":"m"},{"x":34600,"y":1180,"s":"m"},{"x":34850,"y":1150,"s":"m"},{"x":35100,"y":1250,"s":"m"},{"x":35170,"y":1270,"s":"m"},{"x":35500,"y":1300,"s":"m"},{"x":35900,"y":1290,"s":"m"},{"x":36200,"y":1260,"s":"m"},{"x":36700,"y":1270,"s":"m"},{"x":37200,"y":1300,"s":"m"},{"x":37600,"y":1240,"s":"m"},{"x":38000,"y":1300,"s":"m"},{"x":38500,"y":1270,"s":"m"},{"x":39000,"y":1240,"s":"m"},{"x":39100,"y":1280,"s":"m"},{"x":36800,"y":1310,"s":"m"},{"x":38800,"y":1330,"s":"m"},{"x":34200,"y":1320,"s":"m"},
{"x":32400,"y":1680,"s":"m"},{"x":32550,"y":1660,"s":"m"},{"x":32720,"y":1690,"s":"m"},{"x":32880,"y":1670,"s":"m"},{"x":33050,"y":1680,"s":"m"},{"x":33180,"y":1670,"s":"m"},{"x":33420,"y":1690,"s":"m"},{"x":33560,"y":1670,"s":"m"},{"x":33790,"y":1680,"s":"m"},{"x":33950,"y":1670,"s":"m"},{"x":34080,"y":1690,"s":"m"},{"x":34260,"y":1680,"s":"m"},{"x":34420,"y":1670,"s":"m"},{"x":34600,"y":1690,"s":"m"},{"x":34800,"y":1670,"s":"m"},{"x":35000,"y":1680,"s":"m"},{"x":35200,"y":1670,"s":"m"},{"x":35380,"y":1690,"s":"m"},{"x":35600,"y":1670,"s":"m"},{"x":35780,"y":1680,"s":"m"},{"x":36000,"y":1670,"s":"m"},{"x":36220,"y":1690,"s":"m"},{"x":36420,"y":1680,"s":"m"},{"x":36600,"y":1670,"s":"m"},{"x":36800,"y":1690,"s":"m"},{"x":37000,"y":1680,"s":"m"},{"x":37200,"y":1700,"s":"m"},{"x":37420,"y":1670,"s":"m"},{"x":37620,"y":1680,"s":"m"},{"x":37820,"y":1700,"s":"m"},{"x":38020,"y":1670,"s":"m"},{"x":38220,"y":1690,"s":"m"},{"x":38420,"y":1680,"s":"m"},{"x":38620,"y":1670,"s":"m"},{"x":38820,"y":1690,"s":"m"},{"x":39050,"y":1680,"s":"m"},
{"x":32380,"y":1370,"s":"m"},{"x":32580,"y":1380,"s":"m"},{"x":32780,"y":1350,"s":"m"},{"x":32950,"y":1370,"s":"m"},{"x":33150,"y":1360,"s":"m"},{"x":33350,"y":1350,"s":"m"},{"x":33520,"y":1380,"s":"m"},{"x":33830,"y":1360,"s":"m"},{"x":34050,"y":1350,"s":"m"},{"x":34300,"y":1370,"s":"m"},{"x":34480,"y":1360,"s":"m"},{"x":34680,"y":1350,"s":"m"},{"x":34880,"y":1370,"s":"m"},{"x":35050,"y":1360,"s":"m"},{"x":35280,"y":1350,"s":"m"},{"x":35450,"y":1370,"s":"m"},{"x":35650,"y":1360,"s":"m"},{"x":35850,"y":1340,"s":"m"},{"x":36050,"y":1370,"s":"m"},{"x":36250,"y":1350,"s":"m"},{"x":36450,"y":1360,"s":"m"},{"x":36650,"y":1340,"s":"m"},{"x":36900,"y":1360,"s":"m"},{"x":37100,"y":1350,"s":"m"},{"x":37300,"y":1360,"s":"m"},{"x":37500,"y":1340,"s":"m"},{"x":37700,"y":1370,"s":"m"},{"x":37900,"y":1350,"s":"m"},{"x":38100,"y":1340,"s":"m"},{"x":38300,"y":1360,"s":"m"},{"x":38550,"y":1350,"s":"m"},{"x":38750,"y":1360,"s":"m"},{"x":38950,"y":1340,"s":"m"},{"x":39120,"y":1330,"s":"m"}
],"centers":[
{"x":490,"y":1410},{"x":1350,"y":1410},{"x":2550,"y":1410},{"x":5900,"y":1335},{"x":7400,"y":1335},{"x":7970,"y":1335},{"x":12500,"y":1095},{"x":15330,"y":1095},{"x":19620,"y":1095},{"x":25850,"y":1040},{"x":26920,"y":1040},{"x":27550,"y":1040},{"x":30170,"y":1200},{"x":31150,"y":1200},{"x":31500,"y":1200},{"x":33500,"y":1520},{"x":34200,"y":1520},{"x":39000,"y":1520}
]},
"resolve":{"axis":{"x":"independent","y":"independent"}},
"layer":[
{"data":{"name":"bands"},"mark":{"type":"rule","strokeWidth":4,"clip":true},
"encoding":{"x":{"field":"x","type":"quantitative","scale":{"domain":[0,39170],"nice":false},"axis":{"title":"Frame number","format":"d","values":[0,5000,10000,15000,20000,25000,30000,35000],"titlePadding":2}},
"y":{"field":"lo","type":"quantitative","scale":{"domain":[0,2000]},"axis":{"title":"Largest Eigenvalue of D","format":"d","values":[0,500,1000,1500,2000],"titlePadding":1}},
"y2":{"field":"hi"},
"color":{"field":"s","type":"nominal","legend":null,"scale":{"domain":["k","o","g","s","b","p","m"],"range":["#000000","#FFB400","#66FF00","#00FF80","#0095FF","#5500FF","#FF00BF"]}}}},
{"data":{"name":"pts"},"mark":{"type":"circle","size":5,"opacity":1,"clip":true},
"encoding":{"x":{"field":"x","type":"quantitative","axis":{"orient":"top","title":null,"labels":false,"domain":false,"values":[5000,10000,15000,20000,25000,30000,35000]}},"y":{"field":"y","type":"quantitative","axis":{"orient":"right","title":null,"labels":false,"domain":false,"values":[500,1000,1500]}},"color":{"field":"s","type":"nominal","legend":null}}},
{"data":{"name":"centers"},"mark":{"type":"point","filled":true,"size":22,"fill":"#E00000","stroke":"#111","strokeWidth":1,"opacity":1,"clip":false},
"encoding":{"x":{"field":"x","type":"quantitative","axis":null},"y":{"field":"y","type":"quantitative","axis":null}}}
]}
